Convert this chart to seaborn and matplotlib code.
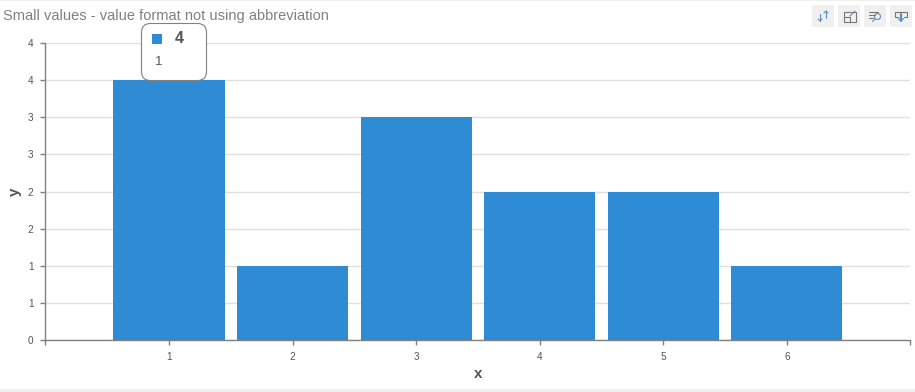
import pandas as pd
import numpy as np
from matplotlib import pyplot as plt
from matplotlib.patches import FancyBboxPatch, Rectangle
import seaborn as sns

title = 'Small values - value format not using abbreviation'
categories = ['1', '2', '3', '4', '5', '6']
values = [3.5, 1, 3, 2, 2, 1]
y_ticks = [0, 0.5, 1, 1.5, 2, 2.5, 3, 3.5, 4]
y_tick_labels = ['0', '1', '1', '2', '2', '3', '3', '4', '4']
tooltip_name = '4'
tooltip_value = '1'

W, H = 915, 392
blue = '#2e8bd4'
axis_grey = '#808080'
text_grey = '#555555'

sns.set_theme(style='white')
plt.rcParams['font.family'] = ['Liberation Sans', 'DejaVu Sans']

df = pd.DataFrame({'x': categories, 'y': values})

fig = plt.figure(figsize=(W / 100, H / 100), dpi=100)
ax = fig.add_axes([45.4 / W, 1 - 340 / H, 865 / W, 297 / H])
sns.barplot(data=df, x='x', y='y', color=blue, saturation=1, width=0.9, linewidth=0, ax=ax, zorder=3)

ax.set_xlim(-1, 6)
ax.set_ylim(0, 4)
ax.set_yticks(y_ticks)
ax.set_yticklabels(y_tick_labels)
ax.set_xticks(range(-1, 7))
ax.set_xticklabels([''] + categories + [''])
ax.grid(axis='y', color='#e0e0e0', lw=1, zorder=0)
ax.set_axisbelow(True)
ax.tick_params(axis='y', length=3.6, width=1, color=axis_grey, labelcolor=text_grey, labelsize=7.2, pad=5, left=True)
ax.tick_params(axis='x', length=3.6, width=1, color=axis_grey, labelcolor=text_grey, labelsize=7.2, pad=5.4, bottom=True)
for s in ['top', 'right']:
    ax.spines[s].set_visible(False)
for s in ['left', 'bottom']:
    ax.spines[s].set_color(axis_grey)
    ax.spines[s].set_linewidth(1)
ax.set_xlabel('x', fontsize=11, fontweight='bold', color=text_grey)
ax.set_ylabel('y', fontsize=11, fontweight='bold', color=text_grey)
ax.xaxis.set_label_coords(433 / 865, -27 / 297)
ax.yaxis.set_label_coords(-23 / 865, 0.5)

# page strips and title, pixel placed
px = lambda x, y: (x / W, 1 - y / H)
fig.add_artist(Rectangle(px(0, 392), 1, 3 / H, transform=fig.transFigure, color='#f0f0f0', lw=0))
fig.add_artist(Rectangle(px(0, 1), 1, 1 / H, transform=fig.transFigure, color='#f0f0f0', lw=0))
fig.text(*px(3, 16), title, fontsize=10.5, color='#808080', va='center', ha='left')

# overlay in pixel coords for tooltip and toolbar
bx = fig.add_axes([0, 0, 1, 1], facecolor='none')
bx.set_xlim(0, W)
bx.set_ylim(H, 0)
bx.axis('off')
bx.add_patch(FancyBboxPatch((141.5, 23.5), 65, 57, boxstyle='round,pad=0,rounding_size=9',
                            facecolor='white', edgecolor='#808080', lw=0.8, zorder=5))
bx.add_patch(Rectangle((152, 34), 10, 10, color=blue, lw=0, zorder=6))
bx.text(175, 38.5, tooltip_name, fontsize=11.5, fontweight='bold', color=text_grey, va='center', zorder=6)
bx.text(155, 62, tooltip_value, fontsize=9.5, color=text_grey, va='center', zorder=6)

# toolbar icons
icon_blue = '#5b8fc4'
icon_dark = '#777777'
for x0 in [812, 838, 864, 890]:
    bx.add_patch(Rectangle((x0, 5), 22, 22, color='#f0f0f0', lw=0))
# sort
bx.plot([820, 820], [14, 21], color=icon_blue, lw=0.8)
bx.plot([826, 826], [11, 18], color=icon_blue, lw=0.8)
bx.plot([818, 820, 822], [19, 21, 19], color=icon_blue, lw=0.8)
bx.plot([824, 826, 828], [13, 11, 13], color=icon_blue, lw=0.8)
# expand
bx.add_patch(Rectangle((843.5, 11.5), 12, 10, fill=False, edgecolor=icon_dark, lw=0.8))
bx.plot([843.5, 850, 850], [17, 17, 21.5], color=icon_dark, lw=0.8)
bx.plot([850, 855], [16, 11], color=icon_blue, lw=0.8)
# zoom
for yy, x1 in [(11.5, 878), (14.5, 875), (17.5, 873)]:
    bx.plot([869, x1], [yy, yy], color=icon_dark, lw=0.8)
bx.add_patch(plt.Circle((877.5, 16.5), 3, fill=False, edgecolor=icon_blue, lw=0.8))
bx.plot([875, 872.5], [19, 21.5], color=icon_blue, lw=0.8)
# download
bx.plot([898, 895, 895, 907, 907, 904], [17, 17, 11.5, 11.5, 17, 17], color=icon_dark, lw=0.8)
bx.plot([901, 901], [14, 20], color=icon_blue, lw=1.6)
bx.plot([898.5, 901, 903.5], [18.5, 21.5, 18.5], color=icon_blue, lw=0.8)

fig.savefig('out.png', dpi=100)
